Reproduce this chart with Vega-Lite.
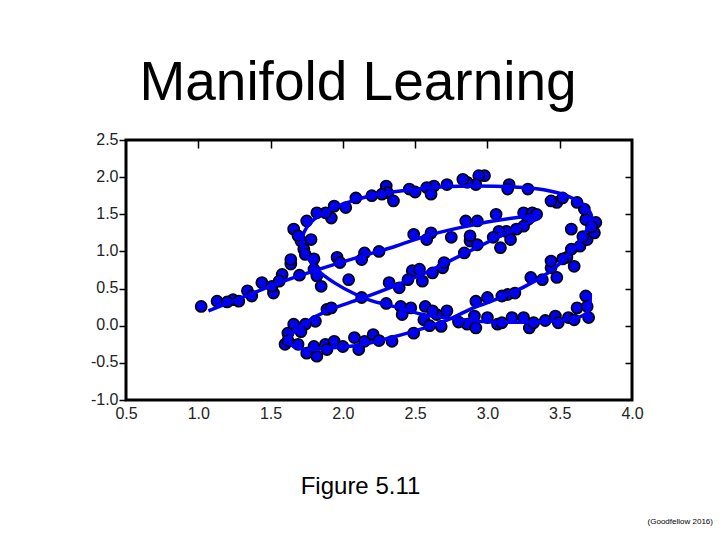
{
  "$schema": "https://vega.github.io/schema/vega-lite/v6.json",
  "width": 506,
  "height": 260,
  "autosize": {"type": "none"},
  "padding": {"left": 126, "top": 140, "right": 88, "bottom": 140},
  "background": "white",
  "config": {"view": {"stroke": "black", "strokeWidth": 3}, "font": "Liberation Sans"},
  "title": {"text": "Manifold Learning", "fontSize": 55, "fontWeight": "normal", "font": "Liberation Sans", "color": "black", "anchor": "middle", "dx": -21, "baseline": "alphabetic", "offset": -24},
  "datasets": {
    "curve": [
      {"i": 0, "x": 1.07, "y": 0.20}, {"i": 1, "x": 1.34, "y": 0.41}, {"i": 2, "x": 1.62, "y": 0.62}, {"i": 3, "x": 1.82, "y": 0.75},
      {"i": 4, "x": 2.12, "y": 0.93}, {"i": 5, "x": 2.35, "y": 1.06}, {"i": 6, "x": 2.58, "y": 1.21}, {"i": 7, "x": 2.81, "y": 1.32},
      {"i": 8, "x": 3.04, "y": 1.41}, {"i": 9, "x": 3.22, "y": 1.46}, {"i": 10, "x": 3.33, "y": 1.48}, {"i": 11, "x": 3.36, "y": 1.46},
      {"i": 12, "x": 3.28, "y": 1.38}, {"i": 13, "x": 3.04, "y": 1.16}, {"i": 14, "x": 2.81, "y": 0.94}, {"i": 15, "x": 2.58, "y": 0.72},
      {"i": 16, "x": 2.35, "y": 0.53}, {"i": 17, "x": 2.12, "y": 0.36}, {"i": 18, "x": 1.89, "y": 0.20}, {"i": 19, "x": 1.75, "y": 0.05},
      {"i": 20, "x": 1.66, "y": -0.09}, {"i": 21, "x": 1.62, "y": -0.20}, {"i": 22, "x": 1.66, "y": -0.28}, {"i": 23, "x": 1.75, "y": -0.32},
      {"i": 24, "x": 1.90, "y": -0.30}, {"i": 25, "x": 2.12, "y": -0.26}, {"i": 26, "x": 2.33, "y": -0.16}, {"i": 27, "x": 2.50, "y": -0.07},
      {"i": 28, "x": 2.75, "y": 0.10}, {"i": 29, "x": 2.88, "y": 0.22}, {"i": 30, "x": 3.04, "y": 0.34}, {"i": 31, "x": 3.27, "y": 0.54},
      {"i": 32, "x": 3.46, "y": 0.77}, {"i": 33, "x": 3.60, "y": 1.04}, {"i": 34, "x": 3.69, "y": 1.30}, {"i": 35, "x": 3.72, "y": 1.47},
      {"i": 36, "x": 3.68, "y": 1.60}, {"i": 37, "x": 3.56, "y": 1.74}, {"i": 38, "x": 3.39, "y": 1.83}, {"i": 39, "x": 3.16, "y": 1.87},
      {"i": 40, "x": 2.93, "y": 1.88}, {"i": 41, "x": 2.70, "y": 1.87}, {"i": 42, "x": 2.47, "y": 1.83}, {"i": 43, "x": 2.24, "y": 1.77},
      {"i": 44, "x": 2.10, "y": 1.70}, {"i": 45, "x": 1.94, "y": 1.59}, {"i": 46, "x": 1.80, "y": 1.43}, {"i": 47, "x": 1.73, "y": 1.25},
      {"i": 48, "x": 1.72, "y": 1.07}, {"i": 49, "x": 1.77, "y": 0.89}, {"i": 50, "x": 1.83, "y": 0.74}, {"i": 51, "x": 1.94, "y": 0.58},
      {"i": 52, "x": 2.08, "y": 0.43}, {"i": 53, "x": 2.19, "y": 0.34}, {"i": 54, "x": 2.35, "y": 0.26}, {"i": 55, "x": 2.58, "y": 0.14},
      {"i": 56, "x": 2.75, "y": 0.10}, {"i": 57, "x": 2.88, "y": 0.07}, {"i": 58, "x": 3.04, "y": 0.05}, {"i": 59, "x": 3.28, "y": 0.05},
      {"i": 60, "x": 3.50, "y": 0.07}, {"i": 61, "x": 3.64, "y": 0.12}, {"i": 62, "x": 3.70, "y": 0.20}, {"i": 63, "x": 3.71, "y": 0.30},
      {"i": 64, "x": 3.71, "y": 0.44}
    ],
    "pts": [
      {"x": 1.02, "y": 0.26}, {"x": 1.13, "y": 0.33}, {"x": 1.24, "y": 0.35}, {"x": 1.28, "y": 0.33}, {"x": 1.34, "y": 0.47},
      {"x": 1.37, "y": 0.40}, {"x": 1.44, "y": 0.58}, {"x": 1.52, "y": 0.44}, {"x": 1.51, "y": 0.53}, {"x": 1.58, "y": 0.69},
      {"x": 1.64, "y": 0.83}, {"x": 1.80, "y": 0.76}, {"x": 1.82, "y": 0.67}, {"x": 1.85, "y": 0.53}, {"x": 1.89, "y": 0.22},
      {"x": 1.81, "y": 0.06}, {"x": 1.74, "y": 0.02}, {"x": 1.62, "y": -0.10}, {"x": 1.60, "y": -0.25}, {"x": 1.69, "y": -0.25},
      {"x": 1.75, "y": -0.37}, {"x": 1.82, "y": -0.41}, {"x": 1.80, "y": -0.28}, {"x": 1.88, "y": -0.25}, {"x": 1.66, "y": 0.02},
      {"x": 1.71, "y": -0.08}, {"x": 1.89, "y": -0.32}, {"x": 1.94, "y": -0.21}, {"x": 2.08, "y": -0.16}, {"x": 2.11, "y": -0.32},
      {"x": 2.15, "y": -0.21}, {"x": 2.21, "y": -0.12}, {"x": 2.34, "y": -0.21}, {"x": 2.49, "y": -0.10}, {"x": 2.68, "y": -0.01},
      {"x": 2.86, "y": 0.02}, {"x": 2.04, "y": 0.62}, {"x": 2.13, "y": 0.38}, {"x": 1.92, "y": 0.24}, {"x": 2.32, "y": 0.58},
      {"x": 2.39, "y": 0.51}, {"x": 2.48, "y": 0.74}, {"x": 2.53, "y": 0.76}, {"x": 2.55, "y": 0.60}, {"x": 2.62, "y": 0.71},
      {"x": 2.69, "y": 0.78}, {"x": 2.40, "y": 0.26}, {"x": 2.47, "y": 0.24}, {"x": 2.41, "y": 0.15}, {"x": 2.57, "y": 0.26},
      {"x": 2.65, "y": 0.15}, {"x": 2.72, "y": 0.20}, {"x": 2.56, "y": 0.08}, {"x": 2.91, "y": 0.13}, {"x": 2.92, "y": -0.03},
      {"x": 3.00, "y": 0.11}, {"x": 3.07, "y": 0.02}, {"x": 3.17, "y": 0.11}, {"x": 3.25, "y": 0.11}, {"x": 3.29, "y": -0.03},
      {"x": 3.32, "y": 0.04}, {"x": 3.47, "y": 0.13}, {"x": 3.49, "y": 0.04}, {"x": 3.56, "y": 0.11}, {"x": 3.62, "y": 0.24},
      {"x": 3.68, "y": 0.40}, {"x": 3.69, "y": 0.26}, {"x": 3.70, "y": 0.11}, {"x": 2.92, "y": 0.33}, {"x": 3.00, "y": 0.38},
      {"x": 3.14, "y": 0.42}, {"x": 3.19, "y": 0.44}, {"x": 3.30, "y": 0.65}, {"x": 3.48, "y": 0.65}, {"x": 3.44, "y": 0.78},
      {"x": 3.60, "y": 0.80}, {"x": 3.55, "y": 0.92}, {"x": 3.58, "y": 1.03}, {"x": 3.64, "y": 1.07}, {"x": 3.69, "y": 1.16},
      {"x": 3.74, "y": 1.25}, {"x": 3.58, "y": 1.30}, {"x": 3.75, "y": 1.39}, {"x": 3.68, "y": 1.43}, {"x": 3.67, "y": 1.57},
      {"x": 3.62, "y": 1.66}, {"x": 3.48, "y": 1.66}, {"x": 3.44, "y": 1.68}, {"x": 3.44, "y": 0.87}, {"x": 3.15, "y": 1.90},
      {"x": 3.14, "y": 1.84}, {"x": 2.98, "y": 2.02}, {"x": 2.94, "y": 2.02}, {"x": 2.92, "y": 1.90}, {"x": 2.86, "y": 1.93},
      {"x": 2.83, "y": 1.97}, {"x": 2.63, "y": 1.88}, {"x": 2.58, "y": 1.86}, {"x": 2.61, "y": 1.77}, {"x": 2.30, "y": 1.88},
      {"x": 2.31, "y": 1.79}, {"x": 2.35, "y": 1.68}, {"x": 2.27, "y": 1.77}, {"x": 2.09, "y": 1.72}, {"x": 2.02, "y": 1.59},
      {"x": 1.94, "y": 1.61}, {"x": 1.92, "y": 1.45}, {"x": 1.88, "y": 1.52}, {"x": 1.82, "y": 1.52}, {"x": 1.75, "y": 1.41},
      {"x": 1.66, "y": 1.30}, {"x": 1.71, "y": 1.14}, {"x": 1.78, "y": 1.16}, {"x": 1.69, "y": 1.21}, {"x": 1.73, "y": 1.03},
      {"x": 1.74, "y": 0.96}, {"x": 1.80, "y": 0.90}, {"x": 1.64, "y": 0.89}, {"x": 1.96, "y": 0.92}, {"x": 1.98, "y": 0.85},
      {"x": 2.15, "y": 0.98}, {"x": 2.25, "y": 1.00}, {"x": 2.13, "y": 0.89}, {"x": 2.49, "y": 1.23}, {"x": 2.61, "y": 1.25},
      {"x": 2.58, "y": 1.16}, {"x": 2.75, "y": 1.19}, {"x": 2.85, "y": 1.41}, {"x": 2.88, "y": 1.14}, {"x": 2.84, "y": 0.98},
      {"x": 2.93, "y": 1.41}, {"x": 3.06, "y": 1.50}, {"x": 3.25, "y": 1.52}, {"x": 3.31, "y": 1.52}, {"x": 3.34, "y": 1.50},
      {"x": 3.28, "y": 1.43}, {"x": 3.25, "y": 1.34}, {"x": 3.13, "y": 1.27}, {"x": 3.16, "y": 1.16}, {"x": 3.08, "y": 1.27},
      {"x": 3.04, "y": 1.19}, {"x": 3.09, "y": 1.05}, {"x": 2.88, "y": 1.21}, {"x": 2.93, "y": 1.09},
      {"x": 1.62, "y": -0.20}, {"x": 1.20, "y": 0.32}, {"x": 1.56, "y": 0.60}, {"x": 1.70, "y": 0.68}, {"x": 2.46, "y": 1.84},
      {"x": 2.72, "y": 1.90}, {"x": 3.28, "y": 1.84}, {"x": 2.20, "y": 1.75}, {"x": 2.50, "y": 1.80}, {"x": 3.72, "y": 1.33},
      {"x": 3.66, "y": 1.20}, {"x": 3.52, "y": 1.72}, {"x": 2.70, "y": 0.85}, {"x": 2.45, "y": 0.62}, {"x": 3.20, "y": 1.30},
      {"x": 2.00, "y": -0.28}, {"x": 2.25, "y": -0.20}, {"x": 2.60, "y": 0.00}, {"x": 2.80, "y": 0.05}, {"x": 2.30, "y": 0.30},
      {"x": 2.62, "y": 0.20}, {"x": 3.10, "y": 0.04}, {"x": 3.40, "y": 0.07}, {"x": 3.60, "y": 0.08}, {"x": 3.10, "y": 0.40},
      {"x": 3.38, "y": 0.62}, {"x": 3.52, "y": 0.90}
    ]
  },
  "resolve": {"axis": {"x": "independent", "y": "independent"}},
  "layer": [
    {
      "data": {"name": "pts"},
      "mark": {"type": "circle", "size": 125, "fill": "#0000f0", "fillOpacity": 1, "opacity": 1, "stroke": "black", "strokeWidth": 1.6},
      "encoding": {
        "x": {"field": "x", "type": "quantitative", "scale": {"domain": [0.5, 4], "nice": false, "zero": false},
          "axis": {"orient": "top", "values": [1, 1.5, 2, 2.5, 3, 3.5], "labels": false, "domain": false, "grid": false, "ticks": true, "tickSize": -8, "tickColor": "black", "tickWidth": 1.5, "title": null}},
        "y": {"field": "y", "type": "quantitative", "scale": {"domain": [-1, 2.5], "nice": false, "zero": false},
          "axis": {"orient": "right", "values": [-0.5, 0, 0.5, 1, 1.5, 2], "labels": false, "domain": false, "grid": false, "ticks": true, "tickSize": -7, "tickColor": "black", "tickWidth": 1.5, "title": null}}
      }
    },
    {
      "data": {"name": "curve"},
      "mark": {"type": "line", "color": "#0000f0", "strokeWidth": 3.5, "interpolate": "catmull-rom"},
      "encoding": {
        "x": {"field": "x", "type": "quantitative", "scale": {"domain": [0.5, 4], "nice": false, "zero": false},
          "axis": {"orient": "bottom", "values": [0.5, 1, 1.5, 2, 2.5, 3, 3.5, 4], "labelExpr": "replace(format(datum.value, '.1f'), '\u2212', '-')", "ticks": false, "domain": false, "grid": false,
            "labelPadding": 5, "labelFontSize": 16, "labelColor": "#222", "labelFont": "Liberation Sans", "labelFlush": false, "labelOverlap": false, "labelBound": false,
            "title": "Figure 5.11", "titleFont": "Liberation Sans", "titleFontSize": 24, "titleFontWeight": "normal", "titleColor": "black",
            "titleX": 234, "titleY": 93, "titleAlign": "center", "titleBaseline": "alphabetic"}},
        "y": {"field": "y", "type": "quantitative", "scale": {"domain": [-1, 2.5], "nice": false, "zero": false},
          "axis": {"orient": "left", "values": [-1, -0.5, 0, 0.5, 1, 1.5, 2, 2.5], "labelExpr": "replace(format(datum.value, '.1f'), '\u2212', '-')", "ticks": true, "tickSize": 7, "tickColor": "black", "tickWidth": 1.5,
            "domain": false, "grid": false, "labelPadding": 1, "labelFontSize": 16, "labelColor": "#222", "labelFont": "Liberation Sans", "labelFlush": false, "labelOverlap": false, "labelBound": false, "labelOffset": -1, "title": null}},
        "order": {"field": "i", "type": "quantitative"}
      }
    },
    {
      "data": {"values": [{"note": "(Goodfellow 2016)"}]},
      "mark": {"type": "text", "align": "right", "baseline": "middle", "fontSize": 8, "font": "Liberation Sans", "color": "black", "clip": false},
      "encoding": {
        "text": {"field": "note"},
        "x": {"datum": 4.56, "type": "quantitative", "scale": {"domain": [0.5, 4], "nice": false, "zero": false}, "axis": null},
        "y": {"datum": -2.64, "type": "quantitative", "scale": {"domain": [-1, 2.5], "nice": false, "zero": false}, "axis": null}
      }
    }
  ]
}
